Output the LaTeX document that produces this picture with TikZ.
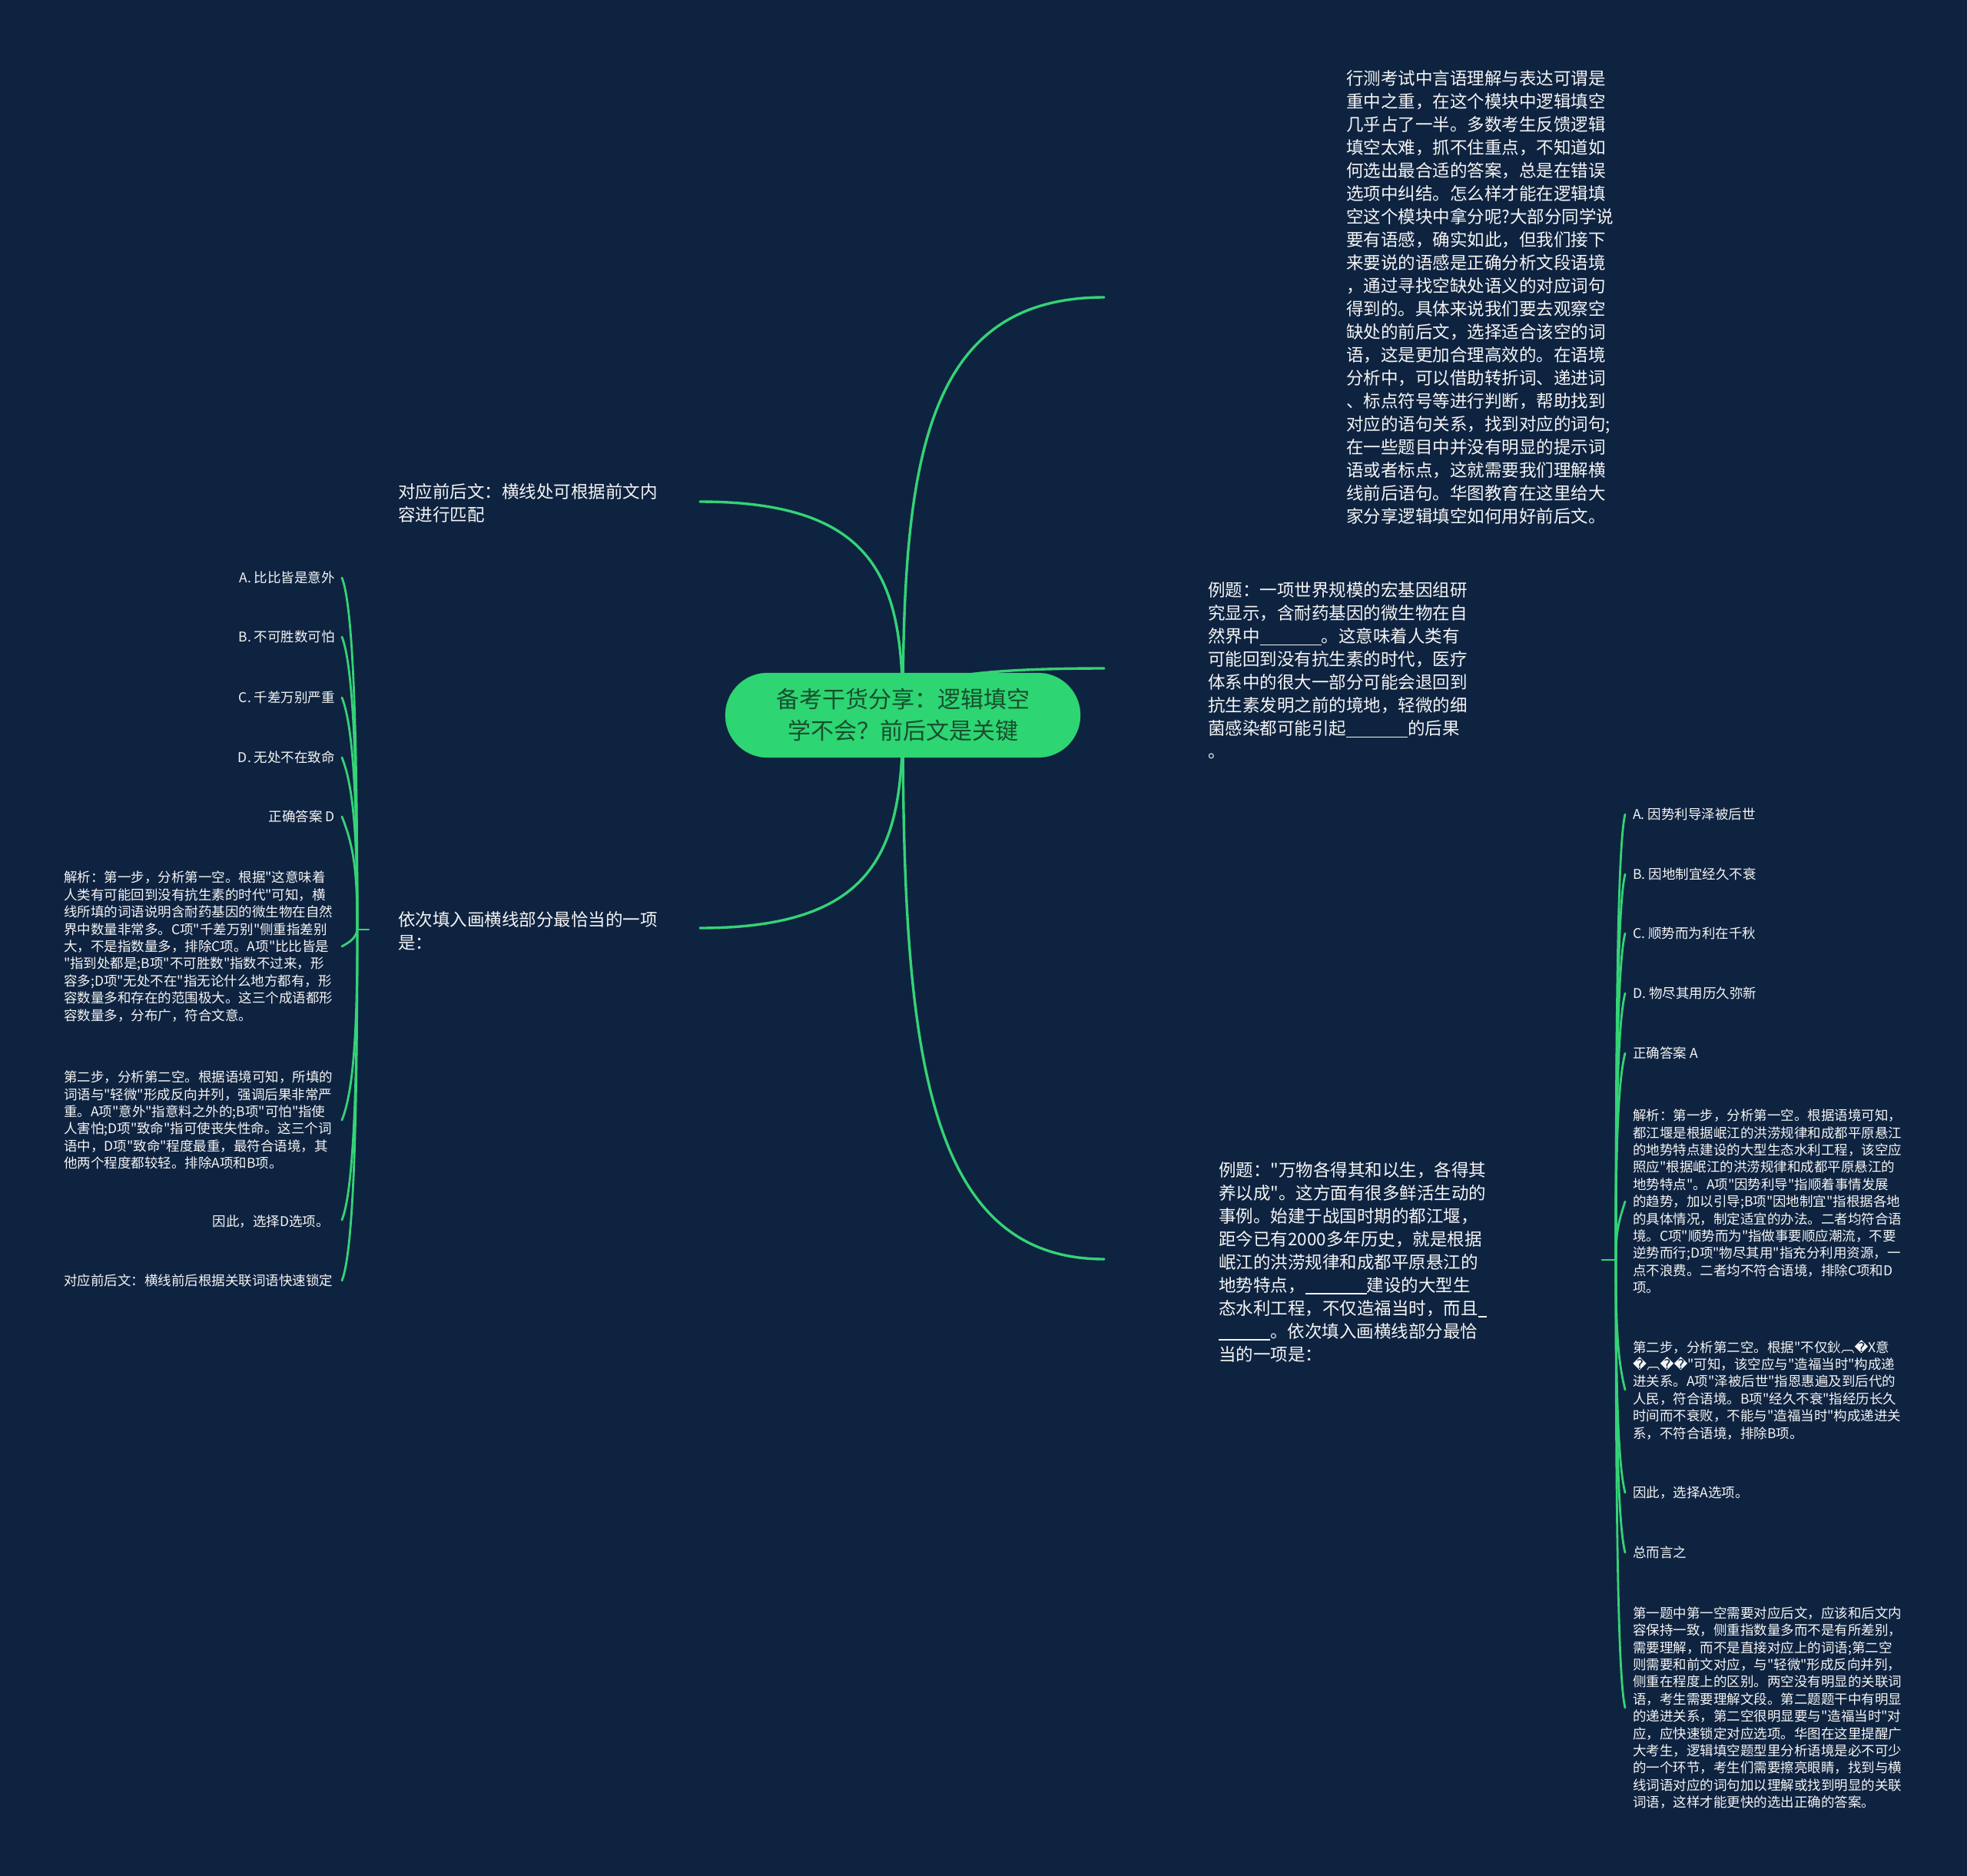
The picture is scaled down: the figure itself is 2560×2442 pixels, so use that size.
\documentclass[tikz,border=0pt]{standalone}
\usepackage{fontspec}
\newfontfamily\cjk{Noto Sans CJK SC}
\newfontfamily\djv{DejaVu Sans}
\usetikzlibrary{calc}
\definecolor{bgc}{RGB}{14,35,64}
\definecolor{lnc}{RGB}{52,211,118}
\definecolor{rootfill}{RGB}{46,213,115}
\definecolor{roottext}{RGB}{24,78,46}
\definecolor{txt}{RGB}{245,245,245}
\newcommand\blankline[1]{\rule[-3pt]{#1pt}{1.3pt}}
\newcommand\rp{{\djv �}}
\pgfdeclarelayer{back}
\pgfdeclarelayer{lines}
\pgfsetlayers{back,lines,main}
\begin{document}
\begin{tikzpicture}[x=1pt,y=-1pt,
  mid/.style={text=txt, inner sep=0pt, align=left, anchor=west, font=\cjk\fontsize{22.5}{30}\selectfont},
  small/.style={text=txt, inner sep=0pt, align=left, anchor=west, font=\cjk\fontsize{17.5}{22.4}\selectfont},
  smallr/.style={small, anchor=east, align=right},
  trunk/.style={draw=lnc, line width=3.4pt, line cap=round},
  twig/.style={draw=lnc, line width=2.8pt, line cap=round},
  rootbox/.style={fill=rootfill, draw=rootfill, rounded corners=55pt, minimum width=462pt, minimum height=110pt, text=roottext, align=center, font=\cjk\fontsize{30}{41}\selectfont, inner sep=0pt}
]
\useasboundingbox (0,0) rectangle (2560,2442);
\begin{pgfonlayer}{back}
\fill[bgc] (0,0) rectangle (2560,2442);
\end{pgfonlayer}

% root
\node[rootbox] (root) at (1175,931) {备考干货分享：逻辑填空\\学不会？前后文是关键};

% level-1 nodes
\node[mid] (top) at (1752,387) {行测考试中言语理解与表达可谓是\\
重中之重，在这个模块中逻辑填空\\
几乎占了一半。多数考生反馈逻辑\\
填空太难，抓不住重点，不知道如\\
何选出最合适的答案，总是在错误\\
选项中纠结。怎么样才能在逻辑填\\
空这个模块中拿分呢?大部分同学说\\
要有语感，确实如此，但我们接下\\
来要说的语感是正确分析文段语境\\
，通过寻找空缺处语义的对应词句\\
得到的。具体来说我们要去观察空\\
缺处的前后文，选择适合该空的词\\
语，这是更加合理高效的。在语境\\
分析中，可以借助转折词、递进词\\
、标点符号等进行判断，帮助找到\\
对应的语句关系，找到对应的词句;\\
在一些题目中并没有明显的提示词\\
语或者标点，这就需要我们理解横\\
线前后语句。华图教育在这里给大\\
家分享逻辑填空如何用好前后文。};

\node[mid] (ex1) at (1572,873) {例题：一项世界规模的宏基因组研\\
究显示，含耐药基因的微生物在自\\
然界中\blankline{80}。这意味着人类有\\
可能回到没有抗生素的时代，医疗\\
体系中的很大一部分可能会退回到\\
抗生素发明之前的境地，轻微的细\\
菌感染都可能引起\blankline{80}的后果\\
。};

\node[mid] (ex2) at (1586,1643) {例题："万物各得其和以生，各得其\\
养以成"。这方面有很多鲜活生动的\\
事例。始建于战国时期的都江堰，\\
距今已有2000多年历史，就是根据\\
岷江的洪涝规律和成都平原悬江的\\
地势特点，\blankline{80}建设的大型生\\
态水利工程，不仅造福当时，而且\blankline{11}\\
\blankline{67}。依次填入画横线部分最恰\\
当的一项是：};

\node[mid] (l1) at (518,655) {对应前后文：横线处可根据前文内\\容进行匹配};
\node[mid] (l2) at (518,1212) {依次填入画横线部分最恰当的一项\\是：};

% left children
\node[smallr] (la) at (436,752) {A. 比比皆是意外};
\node[smallr] (lb) at (436,829) {B. 不可胜数可怕};
\node[smallr] (lc) at (436,908) {C. 千差万别严重};
\node[smallr] (ld) at (436,986) {D. 无处不在致命};
\node[smallr] (le) at (436,1063) {正确答案 D};
\node[small] (lf) at (83,1232) {解析：第一步，分析第一空。根据"这意味着\\
人类有可能回到没有抗生素的时代"可知，横\\
线所填的词语说明含耐药基因的微生物在自然\\
界中数量非常多。C项"千差万别"侧重指差别\\
大，不是指数量多，排除C项。A项"比比皆是\\
"指到处都是;B项"不可胜数"指数不过来，形\\
容多;D项"无处不在"指无论什么地方都有，形\\
容数量多和存在的范围极大。这三个成语都形\\
容数量多，分布广，符合文意。};
\node[small] (lg) at (83,1458) {第二步，分析第二空。根据语境可知，所填的\\
词语与"轻微"形成反向并列，强调后果非常严\\
重。A项"意外"指意料之外的;B项"可怕"指使\\
人害怕;D项"致命"指可使丧失性命。这三个词\\
语中，D项"致命"程度最重，最符合语境，其\\
他两个程度都较轻。排除A项和B项。};
\node[smallr] (lh) at (429,1590) {因此，选择D选项。};
\node[small] (li) at (83,1667) {对应前后文：横线前后根据关联词语快速锁定};

% right children
\node[small] (ra) at (2125,1060) {A. 因势利导泽被后世};
\node[small] (rb) at (2125,1138) {B. 因地制宜经久不衰};
\node[small] (rc) at (2125,1215) {C. 顺势而为利在千秋};
\node[small] (rd) at (2125,1293) {D. 物尽其用历久弥新};
\node[small] (re) at (2125,1371) {正确答案 A};
\node[small] (rf) at (2125,1564) {解析：第一步，分析第一空。根据语境可知，\\
都江堰是根据岷江的洪涝规律和成都平原悬江\\
的地势特点建设的大型生态水利工程，该空应\\
照应"根据岷江的洪涝规律和成都平原悬江的\\
地势特点"。A项"因势利导"指顺着事情发展\\
的趋势，加以引导;B项"因地制宜"指根据各地\\
的具体情况，制定适宜的办法。二者均符合语\\
境。C项"顺势而为"指做事要顺应潮流，不要\\
逆势而行;D项"物尽其用"指充分利用资源，一\\
点不浪费。二者均不符合语境，排除C项和D\\
项。};
\node[small] (rg) at (2125,1809) {第二步，分析第二空。根据"不仅鈥︹\rp X意\\
\rp︹\rp\rp"可知，该空应与"造福当时"构成递\\
进关系。A项"泽被后世"指恩惠遍及到后代的\\
人民，符合语境。B项"经久不衰"指经历长久\\
时间而不衰败，不能与"造福当时"构成递进关\\
系，不符合语境，排除B项。};
\node[small] (rh) at (2125,1943) {因此，选择A选项。};
\node[small] (ri) at (2125,2021) {总而言之};
\node[small] (rj) at (2125,2223) {第一题中第一空需要对应后文，应该和后文内\\
容保持一致，侧重指数量多而不是有所差别，\\
需要理解，而不是直接对应上的词语;第二空\\
则需要和前文对应，与"轻微"形成反向并列，\\
侧重在程度上的区别。两空没有明显的关联词\\
语，考生需要理解文段。第二题题干中有明显\\
的递进关系，第二空很明显要与"造福当时"对\\
应，应快速锁定对应选项。华图在这里提醒广\\
大考生，逻辑填空题型里分析语境是必不可少\\
的一个环节，考生们需要擦亮眼睛，找到与横\\
线词语对应的词句加以理解或找到明显的关联\\
词语，这样才能更快的选出正确的答案。};

% connector end points
\coordinate (eTop) at (1437,387);
\coordinate (eEx1) at (1437,870);
\coordinate (eL1) at (911,653);
\coordinate (eL2) at (911,1208);
\coordinate (eEx2) at (1437,1639);
\coordinate (l2w) at (480,1210);
\coordinate (hubL) at (465,1210);
\coordinate (ex2e) at (2085,1640);
\coordinate (hubR) at (2103,1640);
\foreach \n/\yy in {la/752,lb/829,lc/908,ld/986,le/1063,lf/1232,lg/1458,lh/1588,li/1667}
  {\coordinate (c\n) at (445,\yy);}
\foreach \n/\yy in {ra/1060,rb/1138,rc/1215,rd/1293,re/1371,rf/1564,rg/1809,rh/1943,ri/2021,rj/2223}
  {\coordinate (c\n) at (2115,\yy);}

\begin{pgfonlayer}{lines}
\draw[trunk] (root.center) .. controls (1175,605) and (1201,387) .. (eTop);
\draw[trunk] (root.center) .. controls (1175,894) and (1201,870) .. (eEx1);
\draw[trunk] (root.center) .. controls (1175,764) and (1149,653) .. (eL1);
\draw[trunk] (root.center) .. controls (1175,1097) and (1149,1208) .. (eL2);
\draw[trunk] (root.center) .. controls (1175,1356) and (1201,1639) .. (eEx2);

% left bracket
\draw[twig] (l2w) -- (hubL);
\draw[twig] (hubL) .. controls (465,981) and (461,792) .. (cla);
\draw[twig] (hubL) .. controls (465,1020) and (461,869) .. (clb);
\draw[twig] (hubL) .. controls (465,1059) and (461,948) .. (clc);
\draw[twig] (hubL) .. controls (465,1098) and (461,1026) .. (cld);
\draw[twig] (hubL) .. controls (465,1137) and (461,1103) .. (cle);
\draw[twig] (hubL) .. controls (463,1222) and (455,1226) .. (clf);
\draw[twig] (hubL) .. controls (465,1334) and (461,1418) .. (clg);
\draw[twig] (hubL) .. controls (465,1400) and (461,1548) .. (clh);
\draw[twig] (hubL) .. controls (465,1438) and (461,1627) .. (cli);

% right bracket
\draw[twig] (ex2e) -- (hubR);
\draw[twig] (hubR) .. controls (2103,1350) and (2105,1100) .. (cra);
\draw[twig] (hubR) .. controls (2103,1389) and (2105,1178) .. (crb);
\draw[twig] (hubR) .. controls (2103,1427) and (2105,1255) .. (crc);
\draw[twig] (hubR) .. controls (2103,1466) and (2105,1333) .. (crd);
\draw[twig] (hubR) .. controls (2103,1505) and (2105,1411) .. (cre);
\draw[twig] (hubR) .. controls (2103,1600) and (2107,1590) .. (crf);
\draw[twig] (hubR) .. controls (2103,1724) and (2105,1769) .. (crg);
\draw[twig] (hubR) .. controls (2103,1791) and (2105,1903) .. (crh);
\draw[twig] (hubR) .. controls (2103,1830) and (2105,1981) .. (cri);
\draw[twig] (hubR) .. controls (2103,1931) and (2105,2183) .. (crj);
\end{pgfonlayer}
\end{tikzpicture}
\end{document}
